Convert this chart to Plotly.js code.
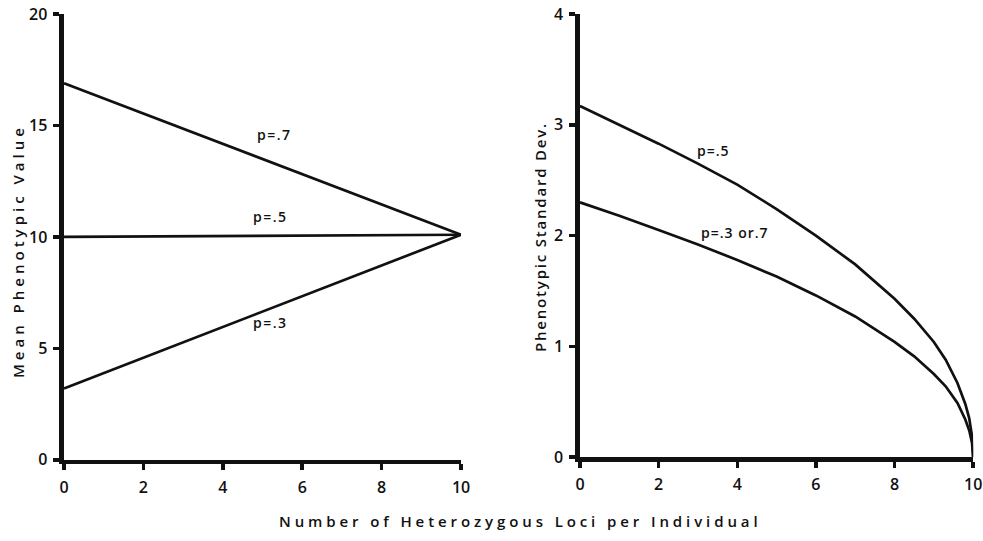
<!DOCTYPE html>
<html><head><meta charset="utf-8">
<script src="https://cdn.plot.ly/plotly-3.0.1.min.js"></script>
<style>body{margin:0;background:#fff}#chart{width:983px;height:541px}</style>
</head><body><div id="chart"></div>
<script>
// Left panel: mean phenotypic value
const lociLeft = [0, 2, 4, 6, 8, 10];
const meanP7 = [16.9, 15.54, 14.18, 12.82, 11.46, 10.1];
const meanP5 = [10.0, 10.02, 10.04, 10.06, 10.08, 10.1];
const meanP3 = [3.2, 4.58, 5.96, 7.34, 8.72, 10.1];
// Right panel: phenotypic standard deviation
const lociRight = [0, 1, 2, 3, 4, 5, 6, 7, 8, 8.5, 9, 9.3, 9.6, 9.8, 9.9, 9.97, 10];
const sdP5 = [3.17, 3.0, 2.83, 2.65, 2.46, 2.24, 2.0, 1.74, 1.43, 1.25, 1.04, 0.88, 0.67, 0.48, 0.35, 0.19, 0];
const sdP37 = [2.3, 2.18, 2.05, 1.92, 1.78, 1.63, 1.46, 1.27, 1.04, 0.91, 0.75, 0.64, 0.49, 0.34, 0.24, 0.13, 0];
const xTicks = [0, 2, 4, 6, 8, 10];
const yTicksLeft = [0, 5, 10, 15, 20];
const yTicksRight = [0, 1, 2, 3, 4];

const lineStyle = {color: '#111', width: 2.7};
const traces = [
  {x: lociLeft, y: meanP7, mode: 'lines', line: lineStyle, xaxis: 'x', yaxis: 'y'},
  {x: lociLeft, y: meanP5, mode: 'lines', line: lineStyle, xaxis: 'x', yaxis: 'y'},
  {x: lociLeft, y: meanP3, mode: 'lines', line: lineStyle, xaxis: 'x', yaxis: 'y'},
  {x: lociRight, y: sdP5, mode: 'lines', line: lineStyle, xaxis: 'x2', yaxis: 'y2'},
  {x: lociRight, y: sdP37, mode: 'lines', line: lineStyle, xaxis: 'x2', yaxis: 'y2'}
];
const fam = '"Open Sans", "DejaVu Sans", sans-serif';
const tickFont = {family: fam, size: 16, color: '#111', weight: 600};
const axBase = {showline: true, linewidth: 4.5, linecolor: '#111', ticks: 'outside', ticklen: 6, tickwidth: 3.5, tickcolor: '#111', showgrid: false, zeroline: false, tickfont: tickFont, fixedrange: true, ticklabeloverflow: 'allow', ticklabelstandoff: 3};
const lblFont = {family: fam, size: 14, color: '#111', weight: 600};
const titleFont = {family: fam, size: 15, color: '#111', weight: 600};
function spaced(s, px) { return '<span style="letter-spacing:' + px + 'px">' + s + '</span>'; }
const layout = {
  width: 983, height: 541, margin: {l: 0, r: 0, t: 0, b: 0},
  paper_bgcolor: '#fff', plot_bgcolor: '#fff', showlegend: false,
  xaxis: Object.assign({}, axBase, {domain: [0.0651, 0.469], range: [0, 10], tickvals: xTicks, anchor: 'y'}),
  yaxis: Object.assign({}, axBase, {domain: [0.15, 0.974], range: [0, 20], tickvals: yTicksLeft, anchor: 'x'}),
  xaxis2: Object.assign({}, axBase, {domain: [0.590, 0.990], range: [0, 10], tickvals: xTicks, anchor: 'y2'}),
  yaxis2: Object.assign({}, axBase, {domain: [0.155, 0.974], range: [0, 4], tickvals: yTicksRight, anchor: 'x2'}),
  annotations: [
    {xref: 'x', yref: 'y', x: 5.3, y: 14.6, text: spaced('p=.7', 1.5), showarrow: false, font: lblFont},
    {xref: 'x', yref: 'y', x: 5.2, y: 10.9, text: spaced('p=.5', 1.5), showarrow: false, font: lblFont},
    {xref: 'x', yref: 'y', x: 5.2, y: 6.15, text: spaced('p=.3', 1.5), showarrow: false, font: lblFont},
    {xref: 'x2', yref: 'y2', x: 3.4, y: 2.77, text: spaced('p=.5', 1), showarrow: false, font: lblFont},
    {xref: 'x2', yref: 'y2', x: 3.95, y: 2.03, text: spaced('p=.3 or.7', 1), showarrow: false, font: lblFont},
    {xref: 'paper', yref: 'paper', x: 18/983, y: (541-251)/541, xanchor: 'center', yanchor: 'middle', text: spaced('Mean Phenotypic Value', 4), textangle: -90, showarrow: false, font: titleFont},
    {xref: 'paper', yref: 'paper', x: 540/983, y: (541-237)/541, xanchor: 'center', yanchor: 'middle', text: spaced('Phenotypic Standard Dev.', 1.8), textangle: -90, showarrow: false, font: titleFont},
    {xref: 'paper', yref: 'paper', x: 520/983, y: (541-521)/541, xanchor: 'center', yanchor: 'middle', text: spaced('Number of Heterozygous Loci per Individual', 3.9), showarrow: false, font: titleFont}
  ]
};
Plotly.newPlot('chart', traces, layout, {staticPlot: true});
</script></body></html>
